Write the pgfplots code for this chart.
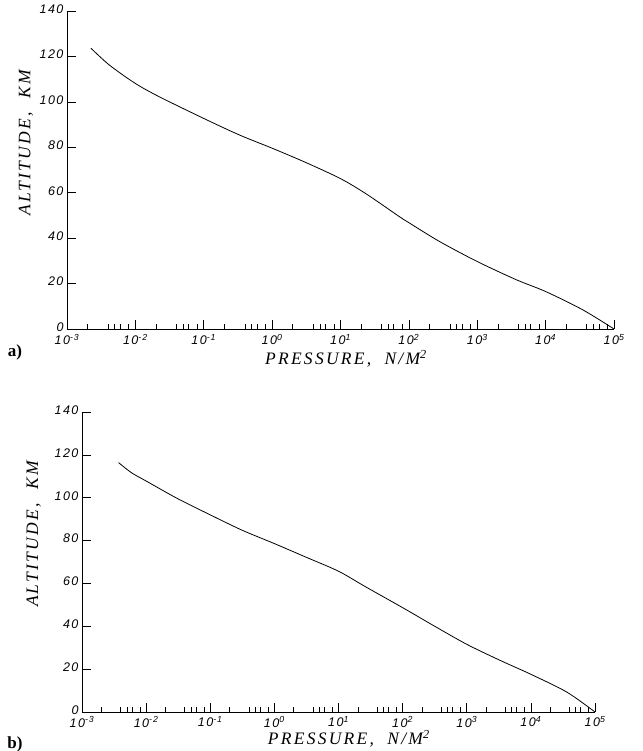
\documentclass[border=0pt]{standalone}
\usepackage{fontspec}
\setmainfont{Liberation Serif}
\setsansfont{Liberation Sans}
\usepackage{pgfplots}
\usepackage{pgfplotstable}
\pgfplotsset{compat=1.18}

\newcommand{\tn}[1]{10\textsuperscript{#1}}
\newcommand{\labfont}{\itshape\fontsize{17.5}{17.5}\selectfont\addfontfeatures{LetterSpace=13}}
\newcommand{\tickfont}{\sffamily\itshape\fontsize{12.5}{12.5}\selectfont\addfontfeatures{LetterSpace=12}}

\pgfplotstableread{
p alt
0.002244 123.6
0.004169 116.2
0.01 108.1
0.02254 102.2
0.1 92.7
0.3334 85.4
1 79.6
3.162 73.2
10 66.2
23.71 59.5
72.44 49.5
100 46.8
281.8 38.5
1000 29.7
3715 21.7
10000 16.5
34670 8.5
100000 0
}\dataA

\pgfplotstableread{
p alt
0.003715 116.4
0.005888 111.7
0.01 107.8
0.03090 99.6
0.1 92.0
0.3162 84.8
1 78.6
3.090 72.3
10 65.7
26.92 58.3
100 48.7
309.0 40.2
1000 31.6
3311 24.1
10000 17.6
36310 9.3
100000 0
}\dataB

\begin{document}
\begin{tikzpicture}
\useasboundingbox (0,0) rectangle (642pt,-751pt);

\begin{axis}[xmode=log, scale only axis, at={(67pt,-329pt)}, anchor=south west,
  width=547pt, height=318pt,
  xmin=1e-3, xmax=1e5, ymin=0, ymax=140,
  axis x line=bottom, axis y line=left, axis line style={-, line width=0.9pt},
  tick align=inside,
  xtick={1e-3,1e-2,1e-1,1,10,100,1000,10000,100000},
  xticklabels={\tn{-3},\tn{-2},\tn{-1},\tn{0},\tn{1},\tn{2},\tn{3},\tn{4},\tn{5}},
  minor xtick={2e-3,4e-3,5e-3,6e-3,8e-3,2e-2,4e-2,5e-2,6e-2,8e-2,
               0.2,0.4,0.5,0.6,0.8,2,4,5,6,8,20,40,50,60,80,
               200,400,500,600,800,2000,4000,5000,6000,8000,
               20000,40000,50000,60000,80000},
  ytick={0,20,40,60,80,100,120,140},
  yticklabels={0,20,40,60,80,100,120,140},
  major tick length=9pt, minor tick length=5pt,
  tick style={black, line width=0.6pt},
  ticklabel style={font=\tickfont},
  xticklabel style={yshift=-2pt},
  yticklabel style={yshift=2pt},
  xlabel={PRESSURE,\ \ N/M\textsuperscript{2}},
  ylabel={ALTITUDE,\ \ KM},
  xlabel style={font=\labfont, anchor=center, at={(axis description cs:0.51,-0.094)}},
  ylabel style={font=\labfont, anchor=center, at={(axis description cs:-0.075,0.585)}},
  clip=false]
\addplot[black, line width=0.8pt, smooth] table[x=p, y=alt] {\dataA};
\end{axis}
\node[font=\bfseries\fontsize{17}{17}\selectfont] at (15pt,-352pt) {a)};

\begin{axis}[xmode=log, scale only axis, at={(82pt,-712pt)}, anchor=south west,
  width=513pt, height=300pt,
  xmin=1e-3, xmax=1e5, ymin=0, ymax=140,
  axis x line=bottom, axis y line=left, axis line style={-, line width=0.9pt},
  tick align=inside,
  xtick={1e-3,1e-2,1e-1,1,10,100,1000,10000,100000},
  xticklabels={\tn{-3},\tn{-2},\tn{-1},\tn{0},\tn{1},\tn{2},\tn{3},\tn{4},\tn{5}},
  minor xtick={2e-3,4e-3,5e-3,6e-3,8e-3,2e-2,4e-2,5e-2,6e-2,8e-2,
               0.2,0.4,0.5,0.6,0.8,2,4,5,6,8,20,40,50,60,80,
               200,400,500,600,800,2000,4000,5000,6000,8000,
               20000,40000,50000,60000,80000},
  ytick={0,20,40,60,80,100,120,140},
  yticklabels={0,20,40,60,80,100,120,140},
  major tick length=9pt, minor tick length=5pt,
  tick style={black, line width=0.6pt},
  ticklabel style={font=\tickfont},
  xticklabel style={yshift=-1pt},
  yticklabel style={yshift=2pt},
  xlabel={PRESSURE,\ \ N/M\textsuperscript{2}},
  ylabel={ALTITUDE,\ \ KM},
  xlabel style={font=\labfont, anchor=center, at={(axis description cs:0.52,-0.09)}},
  ylabel style={font=\labfont, anchor=center, at={(axis description cs:-0.094,0.593)}},
  clip=false]
\addplot[black, line width=0.8pt, smooth] table[x=p, y=alt] {\dataB};
\end{axis}
\node[font=\bfseries\fontsize{17}{17}\selectfont] at (15pt,-744pt) {b)};
\end{tikzpicture}
\end{document}
